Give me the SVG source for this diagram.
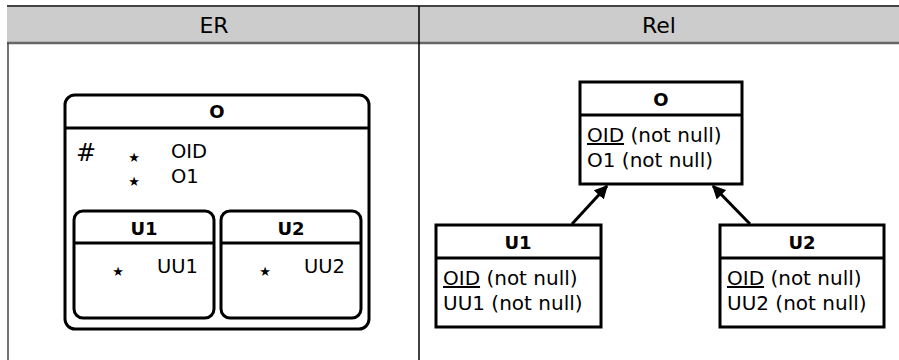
<svg xmlns="http://www.w3.org/2000/svg" width="899" height="360" viewBox="0 0 899 360">
<defs>
<style>
text{font-family:"DejaVu Sans","Liberation Sans",sans-serif;fill:#000}
.hd{font-size:22px;text-anchor:middle}
.ttl{font-size:18px;font-weight:bold;text-anchor:middle}
.at{font-size:19.5px}
.rt{font-size:20px}
.star{font-size:13px;text-anchor:middle}
.box{fill:#fff;stroke:#000;stroke-width:3}
.ln{stroke:#000;stroke-width:3}
.conn{stroke:#000;stroke-width:3;fill:none}
</style>
<marker id="ah" viewBox="0 0 10 10" refX="9" refY="5" markerWidth="4.5" markerHeight="4.5" orient="auto">
<path d="M0,0 L10,5 L0,10 z" fill="#000"/>
</marker>
</defs>
<g id="table">
<rect x="7" y="6" width="892" height="37" fill="#cccccc"/>
<line x1="7" y1="6" x2="899" y2="6" stroke="#444" stroke-width="2"/>
<line x1="7" y1="43" x2="899" y2="43" stroke="#666" stroke-width="2.5"/>
<line x1="8" y1="43" x2="8" y2="360" stroke="#444" stroke-width="1.5"/>
<line x1="419" y1="6" x2="419" y2="360" stroke="#000" stroke-width="1.5"/>
<text class="hd" x="214" y="33">ER</text>
<text class="hd" x="659" y="33">Rel</text>
</g>
<g id="er-O">
<rect class="box" x="65" y="95" width="304" height="234" rx="10"/>
<line class="ln" x1="65" y1="128" x2="369" y2="128"/>
<text class="ttl" x="217" y="118">O</text>
<text x="76" y="161" style="font-size:24px">#</text>
<text class="star" x="134" y="162">★</text>
<text class="at" x="171" y="158">OID</text>
<text class="star" x="134" y="186">★</text>
<text class="at" x="171" y="183">O1</text>
</g>
<g id="er-U1">
<rect class="box" x="74" y="211" width="140" height="107" rx="9"/>
<line class="ln" x1="74" y1="243" x2="214" y2="243"/>
<text class="ttl" x="144" y="235">U1</text>
<text class="star" x="118" y="276">★</text>
<text class="at" x="157" y="273">UU1</text>
</g>
<g id="er-U2">
<rect class="box" x="221" y="211" width="140" height="107" rx="9"/>
<line class="ln" x1="221" y1="243" x2="361" y2="243"/>
<text class="ttl" x="291" y="235">U2</text>
<text class="star" x="265" y="276">★</text>
<text class="at" x="304" y="273">UU2</text>
</g>
<g id="rel-O">
<rect class="box" x="580" y="82" width="162" height="102"/>
<line class="ln" x1="580" y1="115" x2="742" y2="115"/>
<text class="ttl" x="661" y="106">O</text>
<text class="rt" x="587" y="142"><tspan text-decoration="underline">OID</tspan> (not null)</text>
<text class="rt" x="587" y="167">O1 (not null)</text>
</g>
<g id="rel-U1">
<rect class="box" x="436" y="225" width="165" height="102"/>
<line class="ln" x1="436" y1="258" x2="601" y2="258"/>
<text class="ttl" x="518" y="249">U1</text>
<text class="rt" x="443" y="285"><tspan text-decoration="underline">OID</tspan> (not null)</text>
<text class="rt" x="443" y="310">UU1 (not null)</text>
</g>
<g id="rel-U2">
<rect class="box" x="720" y="225" width="164" height="102"/>
<line class="ln" x1="720" y1="258" x2="884" y2="258"/>
<text class="ttl" x="802" y="249">U2</text>
<text class="rt" x="727" y="285"><tspan text-decoration="underline">OID</tspan> (not null)</text>
<text class="rt" x="727" y="310">UU2 (not null)</text>
</g>
<g id="connectors">
<line class="conn" x1="572" y1="224" x2="607" y2="186" marker-end="url(#ah)"/>
<line class="conn" x1="750" y1="224" x2="713" y2="186" marker-end="url(#ah)"/>
</g>
</svg>
